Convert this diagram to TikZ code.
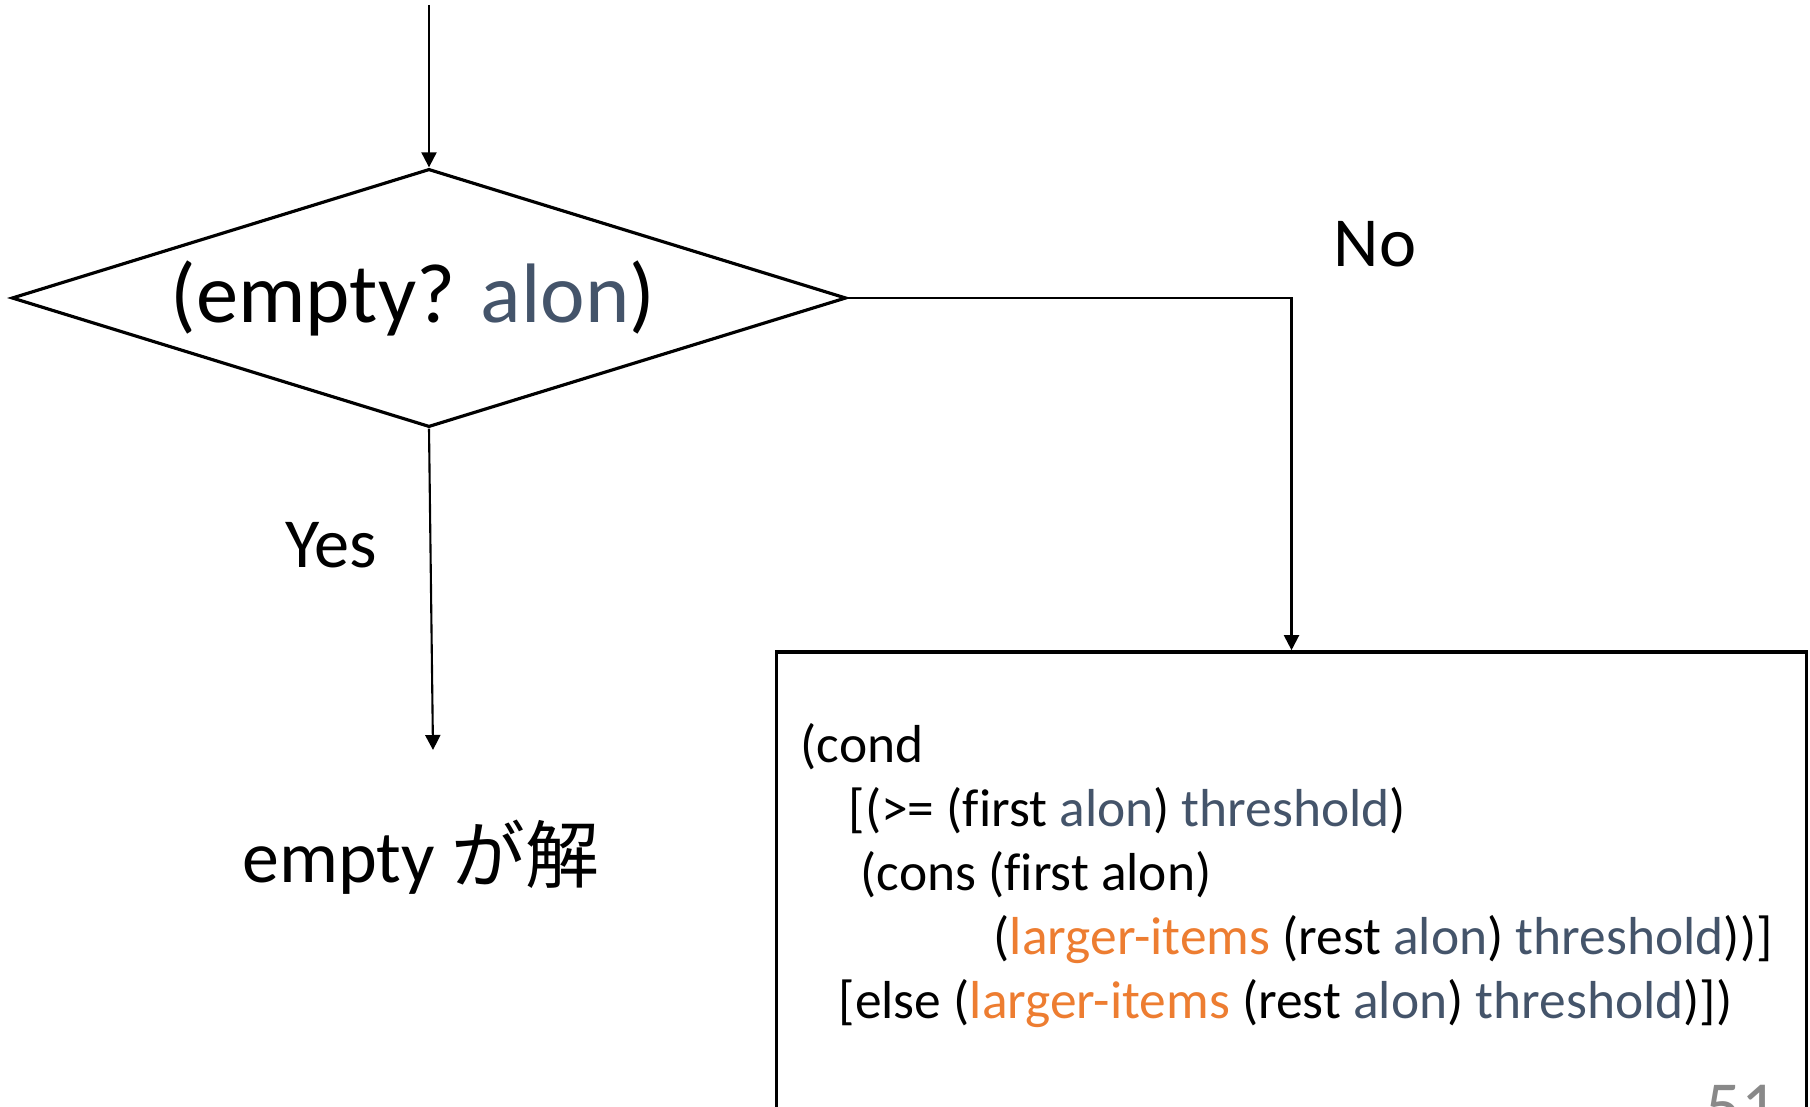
\documentclass[tikz,border=0pt]{standalone}
\usepackage{fontspec}
\setmainfont{Carlito}[Ligatures=CommonOff]
\newfontfamily\jpfont{Noto Sans CJK JP}
\usetikzlibrary{shapes.geometric,arrows.meta}
\definecolor{alongray}{HTML}{44546A}
\definecolor{fnorange}{HTML}{ED7D31}
\definecolor{pagegray}{HTML}{898989}

\begin{document}
\begin{tikzpicture}[x=0.01cm, y=-0.01cm,
  arr/.style={-{Triangle[length=1.5mm,width=1.5mm]}, line width=0.6pt},
  code/.style={anchor=base west, inner sep=0, font=\fontsize{15.2}{18}\selectfont},
  lbl/.style={anchor=base, inner sep=0, font=\fontsize{20}{24}\selectfont}]
  \useasboundingbox (0,0) rectangle (1810,1107);
  \clip (0,0) rectangle (1810,1107);

  \coordinate (start) at (429,5);
  \coordinate (yesend) at (433,750);

  \node[draw, diamond, line width=0.9pt, inner sep=0,
        minimum width=8.34cm, minimum height=2.58cm] (test) at (429,298) {};
  \node[anchor=base, inner sep=0, font=\fontsize{24}{28}\selectfont] (testtxt) at (413,323)
    {(empty? \textcolor{alongray}{alon})};

  \node[draw, line width=0.95pt, inner sep=0,
        minimum width=10.29cm, minimum height=5.08cm] (box) at (1291.5,906) {};

  \node[lbl] (yes) at (331,568) {Yes};
  \node[lbl] (no) at (1375,267) {No};
  \node[lbl, font=\fontsize{21}{25}\selectfont] (answer) at (421,882) {empty {\jpfont が解}};

  \node[code] (l1) at (800,762) {(cond};
  \node[code] (l2) at (848,826) {[(>= (first \textcolor{alongray}{alon}) \textcolor{alongray}{threshold})};
  \node[code] (l3) at (860,890) {(cons (first alon)};
  \node[code] (l4) at (993,954) {(\textcolor{fnorange}{larger-items} (rest \textcolor{alongray}{alon}) \textcolor{alongray}{threshold}))]};
  \node[code] (l5) at (838,1018) {[else (\textcolor{fnorange}{larger-items} (rest \textcolor{alongray}{alon}) \textcolor{alongray}{threshold})])};

  \node[anchor=base west, inner sep=0, text=pagegray, font=\fontsize{20}{24}\selectfont] (page) at (1705,1130) {51};

  \draw[arr] (start) -- (test.north);
  \draw[arr] (test.south) -- (yesend);
  \draw[arr] (test.east) -| (box.north);
\end{tikzpicture}
\end{document}
